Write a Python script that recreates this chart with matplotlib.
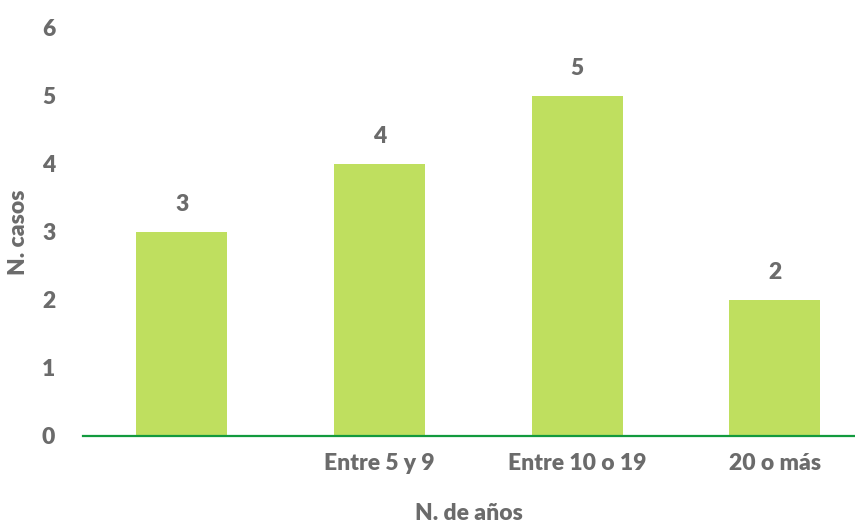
import matplotlib.pyplot as plt

categorias = ["", "Entre 5 y 9", "Entre 10 o 19", "20 o más"]
casos = [3, 4, 5, 2]

GRIS = "#6b6b6b"
plt.rcParams['font.family'] = ['Lato', 'DejaVu Sans']
plt.rcParams['font.weight'] = 'heavy'
FS = 16.5

fig = plt.figure(figsize=(8.55, 5.25), dpi=100)
ax = fig.add_axes([83 / 855, 89 / 525, 772 / 855, 408 / 525])

x = range(len(categorias))
bars = ax.bar(x, casos, width=0.46, color="#bfdf5f", zorder=2)
for b, v in zip(bars, casos):
    ax.annotate(str(v), (b.get_x() + b.get_width() / 2, v), xytext=(0, 12),
                textcoords="offset points", ha="center", va="bottom",
                fontsize=FS, color=GRIS, fontweight="heavy")

ax.set_xlim(-0.5, 3.405)
ax.set_ylim(0, 6)
ax.set_xticks(list(x))
ax.set_xticklabels(categorias)
ax.set_yticks(range(7))
ax.tick_params(length=0, labelsize=FS, labelcolor=GRIS)
ax.tick_params(axis="y", pad=20)
ax.tick_params(axis="x", pad=12)

for s in ["top", "right", "left"]:
    ax.spines[s].set_visible(False)
ax.spines["bottom"].set_color("#129a3e")
ax.spines["bottom"].set_linewidth(1.6)

ax.set_xlabel("N. de años", fontsize=FS, color=GRIS, fontweight="heavy")
ax.set_ylabel("N. casos", fontsize=FS, color=GRIS, fontweight="heavy")
ax.xaxis.set_label_coords(0.5, -78 / 408, transform=ax.transAxes)
ax.yaxis.set_label_coords(-65 / 772, 0.5, transform=ax.transAxes)
ax.xaxis.label.set_va("center")
ax.yaxis.label.set_va("center")

fig.savefig("out.png", dpi=100)
